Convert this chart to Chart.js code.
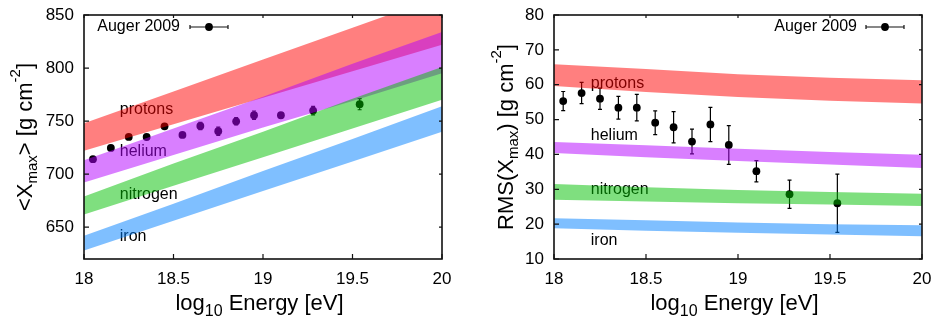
<!DOCTYPE html>
<html><head><meta charset="utf-8">
<script src="https://cdn.jsdelivr.net/npm/chart.js@4.4.1/dist/chart.umd.min.js"></script>
<style>
html,body{margin:0;padding:0;background:#fff;}
#wrap{position:relative;width:934px;height:320px;overflow:hidden;background:#fff;}
canvas{position:absolute;top:0;}
#c1{left:0;} #c2{left:467px;}
</style></head><body>
<div id="wrap"><canvas id="c1" width="467" height="320"></canvas><canvas id="c2" width="467" height="320"></canvas></div>
<script>
// ---------- data ----------
const energy = [18.05, 18.15, 18.25, 18.35, 18.45, 18.55, 18.65, 18.75, 18.85, 18.95, 19.1, 19.28, 19.54];
const xmaxMean = [714.1, 724.7, 735.1, 735.0, 745.1, 737.0, 745.4, 740.4, 749.8, 755.5, 755.5, 759.9, 765.9];
const xmaxErr  = [2, 2, 2, 2, 2, 2, 3.5, 4, 3.5, 4, 2.5, 4, 5.2];
const rmsVal   = [55.3, 57.6, 56.0, 53.4, 53.4, 49.1, 47.8, 43.7, 48.6, 42.7, 35.2, 28.6, 26.0];
const rmsErr   = [2.75, 3.05, 3.05, 3.25, 3.8, 3.4, 4.5, 3.55, 4.9, 5.55, 3.05, 4.05, 8.35];

const bandE = [18, 18.5, 19, 19.5, 20];
// <Xmax> bands
const protonsMeanHi  = [748, 778, 808, 838, 868];
const protonsMeanLo  = [722, 747, 772, 797, 822];
const heliumMeanHi   = [713, 743, 773, 804, 834];
const heliumMeanLo   = [692, 718, 744, 769, 795];
const nitrogenMeanHi = [679, 710, 740, 771, 801];
const nitrogenMeanLo = [662, 689, 716, 743, 770];
const ironMeanHi     = [642, 672, 703, 733, 764];
const ironMeanLo     = [628, 656, 684, 712, 740];
// RMS bands
const protonsRmsHi  = [65.9, 64.5, 63.0, 62.0, 61.3];
const protonsRmsLo  = [59.6, 57.9, 56.5, 55.4, 54.6];
const heliumRmsHi   = [43.6, 42.6, 41.6, 40.7, 39.9];
const heliumRmsLo   = [40.4, 39.2, 38.1, 37.1, 36.1];
const nitrogenRmsHi = [31.5, 30.6, 29.8, 29.2, 28.7];
const nitrogenRmsLo = [27.0, 26.5, 26.0, 25.6, 25.2];
const ironRmsHi     = [21.7, 21.1, 20.5, 20.0, 19.7];
const ironRmsLo     = [18.8, 18.1, 17.5, 17.0, 16.5];

const compLabels = ['protons', 'helium', 'nitrogen', 'iron'];
const labelE = 18.2;
const labelYMean = [760.5, 721.3, 680.5, 641.2];
const labelYRms  = [60.4, 45.4, 30.0, 15.25];

const xTicks = [18, 18.5, 19, 19.5, 20];
const yTicksMean = [650, 700, 750, 800, 850];
const yTicksRms = [10, 20, 30, 40, 50, 60, 70, 80];
const legendText = 'Auger 2009';

// ---------- styling ----------
const FONT = '"Liberation Sans", Arial, sans-serif';
const bandColors = ['rgba(255,0,0,0.5)', 'rgba(180,0,255,0.5)', 'rgba(0,192,0,0.5)', 'rgba(0,128,255,0.5)'];

function drawRich(ctx, parts, x, y, rotate) {
  ctx.save();
  ctx.translate(x, y);
  if (rotate) ctx.rotate(-Math.PI / 2);
  ctx.textBaseline = 'alphabetic';
  ctx.textAlign = 'left';
  ctx.fillStyle = '#000';
  let total = 0;
  parts.forEach(p => { ctx.font = (p.size || 22) + 'px ' + FONT; p.w = ctx.measureText(p.t).width; total += p.w; });
  let cx = -total / 2;
  parts.forEach(p => { ctx.font = (p.size || 22) + 'px ' + FONT; ctx.fillText(p.t, cx, p.dy || 0); cx += p.w; });
  ctx.restore();
}

function makeChart(canvas, cfg) {
  const datasets = [];
  datasets.push({
    type: 'scatter', data: energy.map((e, i) => ({ x: e, y: cfg.vals[i] })),
    pointRadius: 3.9, pointHoverRadius: 3.9, backgroundColor: '#000', borderColor: '#000', borderWidth: 0,
    showLine: false, order: 100
  });
  cfg.bands.forEach((b, k) => {
    const idxHi = datasets.length;
    datasets.push({ type: 'line', data: bandE.map((e, i) => ({ x: e, y: b[0][i] })),
      borderWidth: 0, borderColor: 'rgba(0,0,0,0)', pointRadius: 0, fill: false, order: 10 - k });
    datasets.push({ type: 'line', data: bandE.map((e, i) => ({ x: e, y: b[1][i] })),
      borderWidth: 0, borderColor: 'rgba(0,0,0,0)', pointRadius: 0, fill: idxHi,
      backgroundColor: bandColors[k], order: 10 - k });
  });

  const annot = {
    id: 'annot',
    beforeDatasetsDraw(chart) {
      const ctx = chart.ctx, xs = chart.scales.x, ys = chart.scales.y;
      ctx.save();
      ctx.font = '16px ' + FONT; ctx.fillStyle = '#000';
      ctx.textAlign = 'left'; ctx.textBaseline = 'middle';
      compLabels.forEach((t, i) => ctx.fillText(t, xs.getPixelForValue(labelE), ys.getPixelForValue(cfg.labelY[i])));
      ctx.strokeStyle = '#000'; ctx.lineWidth = 1.2;
      energy.forEach((e, i) => {
        const x = xs.getPixelForValue(e);
        const y1 = ys.getPixelForValue(cfg.vals[i] + cfg.errs[i]);
        const y2 = ys.getPixelForValue(cfg.vals[i] - cfg.errs[i]);
        ctx.beginPath();
        ctx.moveTo(x, y1); ctx.lineTo(x, y2);
        ctx.moveTo(x - 2, y1); ctx.lineTo(x + 2, y1);
        ctx.moveTo(x - 2, y2); ctx.lineTo(x + 2, y2);
        ctx.stroke();
      });
      ctx.restore();
    },
    afterDatasetsDraw(chart) {
      const ctx = chart.ctx, a = chart.chartArea, xs = chart.scales.x, ys = chart.scales.y;
      ctx.save();
      ctx.strokeStyle = '#111'; ctx.lineWidth = 1.6;
      ctx.strokeRect(a.left, a.top, a.right - a.left, a.bottom - a.top);
      ctx.lineWidth = 1.2;
      ctx.beginPath();
      xs.ticks.forEach(t => {
        const x = xs.getPixelForValue(t.value);
        ctx.moveTo(x, a.bottom); ctx.lineTo(x, a.bottom - 5);
        ctx.moveTo(x, a.top); ctx.lineTo(x, a.top + 3);
      });
      ys.ticks.forEach(t => {
        const y = ys.getPixelForValue(t.value);
        ctx.moveTo(a.left, y); ctx.lineTo(a.left + 5, y);
        ctx.moveTo(a.right, y); ctx.lineTo(a.right - 3, y);
      });
      ctx.stroke();
      ctx.font = '16px ' + FONT; ctx.fillStyle = '#000';
      ctx.textAlign = 'right'; ctx.textBaseline = 'alphabetic';
      ctx.fillText(legendText, cfg.legTextRight, 31);
      const ly = 27;
      ctx.lineWidth = 1.2;
      ctx.beginPath();
      ctx.moveTo(cfg.legSym[0], ly); ctx.lineTo(cfg.legSym[1], ly);
      ctx.moveTo(cfg.legSym[0], ly - 2); ctx.lineTo(cfg.legSym[0], ly + 2);
      ctx.moveTo(cfg.legSym[1], ly - 2); ctx.lineTo(cfg.legSym[1], ly + 2);
      ctx.stroke();
      ctx.beginPath(); ctx.arc((cfg.legSym[0] + cfg.legSym[1]) / 2, ly, 3.9, 0, Math.PI * 2); ctx.fill();
      ctx.restore();
    },
    afterDraw(chart) {
      const ctx = chart.ctx, a = chart.chartArea;
      const cxm = (a.left + a.right) / 2 - 3.5;
      drawRich(ctx, [{ t: 'log' }, { t: '10', size: 16, dy: 6 }, { t: ' Energy [eV]' }], cxm, 310, false);
      drawRich(ctx, cfg.yTitle, cfg.yTitleX, (a.top + a.bottom) / 2, true);
    }
  };

  return new Chart(canvas, {
    type: 'line',
    data: { datasets },
    options: {
      responsive: false, animation: false, devicePixelRatio: 1,
      layout: { padding: { left: 0, right: cfg.padRight, top: 15, bottom: 0 } },
      plugins: { legend: { display: false }, tooltip: { enabled: false }, title: { display: false } },
      scales: {
        x: {
          type: 'linear', min: 18, max: 20,
          afterBuildTicks: ax => { ax.ticks = xTicks.map(v => ({ value: v })); },
          afterFit: ax => { ax.height = 61; ax.paddingLeft = 0; ax.paddingRight = 0; },
          grid: { display: false, drawTicks: false }, border: { display: false },
          ticks: { color: '#000', font: { family: FONT, size: 17 }, padding: 10, maxRotation: 0,
                   callback: v => String(v) }
        },
        y: {
          type: 'linear', min: cfg.ymin, max: cfg.ymax,
          afterBuildTicks: ax => { ax.ticks = cfg.yTicks.map(v => ({ value: v })); },
          afterFit: ax => { ax.width = cfg.yWidth; ax.paddingTop = 0; ax.paddingBottom = 0; },
          grid: { display: false, drawTicks: false }, border: { display: false },
          ticks: { color: '#000', font: { family: FONT, size: 17 }, padding: 10, callback: v => String(v) }
        }
      }
    },
    plugins: [annot]
  });
}

makeChart(document.getElementById('c1'), {
  vals: xmaxMean, errs: xmaxErr,
  bands: [[protonsMeanHi, protonsMeanLo], [heliumMeanHi, heliumMeanLo], [nitrogenMeanHi, nitrogenMeanLo], [ironMeanHi, ironMeanLo]],
  labelY: labelYMean, yTicks: yTicksMean, ymin: 620, ymax: 850,
  padRight: 25, yWidth: 84, legTextRight: 180, legSym: [190, 228],
  yTitleX: 32,
  yTitle: [{ t: '<X' }, { t: 'max', size: 15, dy: 5 }, { t: '> [g cm' }, { t: '-2', size: 15, dy: -12 }, { t: ']' }]
});
makeChart(document.getElementById('c2'), {
  vals: rmsVal, errs: rmsErr,
  bands: [[protonsRmsHi, protonsRmsLo], [heliumRmsHi, heliumRmsLo], [nitrogenRmsHi, nitrogenRmsLo], [ironRmsHi, ironRmsLo]],
  labelY: labelYRms, yTicks: yTicksRms, ymin: 10, ymax: 80,
  padRight: 12, yWidth: 87, legTextRight: 390, legSym: [399, 437],
  yTitleX: 46,
  yTitle: [{ t: 'RMS(X' }, { t: 'max', size: 15, dy: 5 }, { t: ') [g cm' }, { t: '-2', size: 15, dy: -12 }, { t: ']' }]
});
</script>
</body></html>
